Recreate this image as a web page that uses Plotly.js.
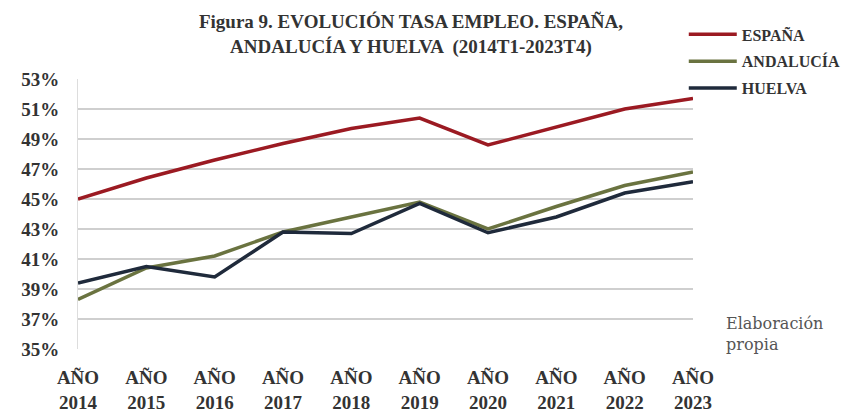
<!DOCTYPE html>
<html>
<head>
<meta charset="utf-8">
<script src="https://cdn.plot.ly/plotly-3.0.1.min.js"></script>
<style>html,body{margin:0;padding:0;background:#fff;}#chart{width:858px;height:418px;}</style>
</head>
<body>
<div id="chart"></div>
<script>
const categories = ["AÑO<br>2014","AÑO<br>2015","AÑO<br>2016","AÑO<br>2017","AÑO<br>2018","AÑO<br>2019","AÑO<br>2020","AÑO<br>2021","AÑO<br>2022","AÑO<br>2023"];
const espana    = [45.0, 46.4, 47.6, 48.7, 49.7, 50.4, 48.6, 49.8, 51.0, 51.7];
const andalucia = [38.3, 40.4, 41.2, 42.8, 43.8, 44.8, 43.0, 44.5, 45.9, 46.8];
const huelva    = [39.4, 40.5, 39.8, 42.8, 42.7, 44.7, 42.75, 43.8, 45.4, 46.15];
const yTicks = [35, 37, 39, 41, 43, 45, 47, 49, 51, 53];
const yTickText = yTicks.map(v => v + "%");

const serif = "Liberation Serif, DejaVu Serif, serif";

const traces = [
  {x: categories, y: espana, name: "ESPAÑA", type: "scatter", mode: "lines",
   line: {color: "#9b1a22", width: 3.5}, legendgroup: "a"},
  {x: categories, y: andalucia, name: "ANDALUCÍA", type: "scatter", mode: "lines",
   line: {color: "#6a7340", width: 3.5}, legendgroup: "b"},
  {x: categories, y: huelva, name: "HUELVA", type: "scatter", mode: "lines",
   line: {color: "#1f2a3b", width: 3.5}, legendgroup: "c"}
];

const layout = {
  width: 858, height: 418,
  margin: {l: 78, r: 150, t: 79, b: 69},
  paper_bgcolor: "#fff", plot_bgcolor: "#fff",
  title: {
    text: "Figura 9. EVOLUCIÓN TASA EMPLEO. ESPAÑA,<br>ANDALUCÍA Y HUELVA  (2014T1-2023T4)",
    font: {family: serif, size: 19, color: "#333", weight: "bold"},
    x: 411/858, xanchor: "center", y: 1 - 28/418, yanchor: "middle", yref: "container"
  },
  xaxis: {
    type: "category", range: [0, 9],
    showgrid: false, zeroline: false, showline: false,
    tickfont: {family: serif, size: 19, color: "#333", weight: "bold"},
    ticks: "", ticklabelstandoff: 15, fixedrange: true
  },
  yaxis: {
    range: [35, 53], tickvals: yTicks, ticktext: yTickText,
    showgrid: true, gridcolor: "#cfcfcf", gridwidth: 2,
    zeroline: false, showline: true, linecolor: "#dddddd", linewidth: 1,
    tickfont: {family: serif, size: 19, color: "#333", weight: "bold"},
    ticks: "", ticklabelstandoff: 14, fixedrange: true
  },
  showlegend: true,
  legend: {
    x: 0.985, xanchor: "left", y: 1.228, yanchor: "top",
    font: {family: serif, size: 16, color: "#333", weight: "bold"},
    traceorder: "grouped", tracegroupgap: 3,
    bgcolor: "rgba(0,0,0,0)", itemwidth: 48
  },
  annotations: [
    {text: "Elaboración<br>propia", xref: "paper", yref: "paper",
     x: (740-78)/630, y: (349-312)/270, xanchor: "left", yanchor: "top",
     showarrow: false, align: "left",
     font: {family: "DejaVu Serif, Liberation Serif, serif", size: 16, color: "#555"}}
  ]
};

Plotly.newPlot("chart", traces, layout, {displayModeBar: false, staticPlot: true});
</script>
</body>
</html>
